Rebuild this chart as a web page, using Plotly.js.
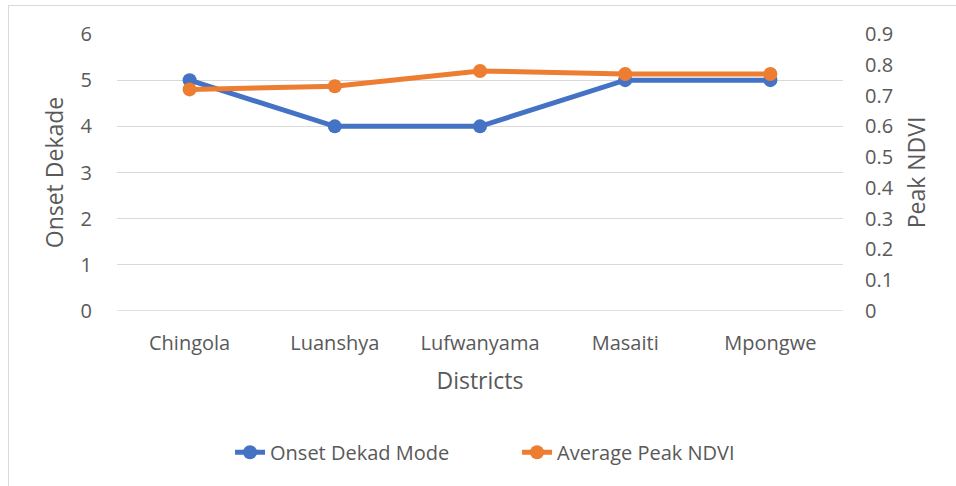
<!DOCTYPE html>
<html>
<head>
<meta charset="utf-8">
<script src="https://cdn.plot.ly/plotly-3.0.1.min.js"></script>
<style>
html,body{margin:0;padding:0;background:#fff;overflow:hidden;}
#wrap{position:relative;width:956px;height:486px;}
#chart{position:absolute;left:0;top:0;width:956px;height:486px;}
#frame{position:absolute;left:8px;top:5px;width:960px;height:500px;border:1px solid #d9d9d9;pointer-events:none;}
</style>
</head>
<body>
<div id="wrap"><div id="chart"></div><div id="frame"></div></div>
<script>
const districts = ["Chingola", "Luanshya", "Lufwanyama", "Masaiti", "Mpongwe"];
const onsetDekadMode = [5, 4, 4, 5, 5];
const averagePeakNDVI = [0.72, 0.73, 0.78, 0.77, 0.77];
const leftTicks = [0, 1, 2, 3, 4, 5, 6];
const rightTicks = [0, 0.1, 0.2, 0.3, 0.4, 0.5, 0.6, 0.7, 0.8, 0.9];

const fontFam = "Open Sans, Noto Sans, sans-serif";
const grey = "#595959";

const traces = [
  {
    x: districts, y: onsetDekadMode, name: "Onset Dekad Mode",
    type: "scatter", mode: "lines+markers", yaxis: "y",
    line: {color: "#4472C4", width: 5},
    marker: {color: "#4472C4", size: 14}
  },
  {
    x: districts, y: averagePeakNDVI, name: "Average Peak NDVI",
    type: "scatter", mode: "lines+markers", yaxis: "y2",
    line: {color: "#ED7D31", width: 5},
    marker: {color: "#ED7D31", size: 14}
  }
];

const layout = {
  width: 956, height: 486,
  margin: {l: 117, r: 113, t: 34, b: 175},
  paper_bgcolor: "#ffffff", plot_bgcolor: "#ffffff",
  font: {family: fontFam, color: grey, size: 20},
  showlegend: true,
  legend: {orientation: "h", x: 0.551, xanchor: "center", y: -0.51, yanchor: "middle",
           font: {size: 20, color: grey}, traceorder: "normal", entrywidth: 242},
  shapes: [
    {type: "line", xref: "paper", yref: "y", x0: 0, x1: 1, y0: 0, y1: 0,
     line: {color: "#d9d9d9", width: 1.3}, layer: "below"}
  ],
  xaxis: {
    type: "category", range: [-0.5, 4.5],
    showgrid: false, zeroline: false, showline: false,
    ticks: "outside", ticklen: 0, tickcolor: "#fff",
    ticklabelstandoff: 14,
    tickfont: {size: 20, color: grey},
    title: {text: "Districts", font: {size: 23, color: grey}, standoff: 17}
  },
  yaxis: {
    range: [0, 6], tickvals: leftTicks, ticktext: leftTicks.map(String),
    showgrid: true, gridcolor: "#d9d9d9", gridwidth: 1.3,
    zeroline: false,
    showline: false,
    ticks: "outside", ticklen: 0, tickcolor: "#fff",
    ticklabelstandoff: 20,
    tickfont: {size: 20, color: grey},
    title: {text: "Onset Dekade", font: {size: 23, color: grey}, standoff: 10}
  },
  yaxis2: {
    overlaying: "y", side: "right", range: [0, 0.9],
    tickvals: rightTicks, ticktext: rightTicks.map(String),
    showgrid: false, zeroline: false, showline: false,
    ticks: "outside", ticklen: 0, tickcolor: "#fff",
    ticklabelstandoff: 17,
    tickfont: {size: 20, color: grey},
    title: {text: "Peak NDVI", font: {size: 23, color: grey}, standoff: 16}
  }
};

Plotly.newPlot("chart", traces, layout, {displayModeBar: false, staticPlot: true});
</script>
</body>
</html>
